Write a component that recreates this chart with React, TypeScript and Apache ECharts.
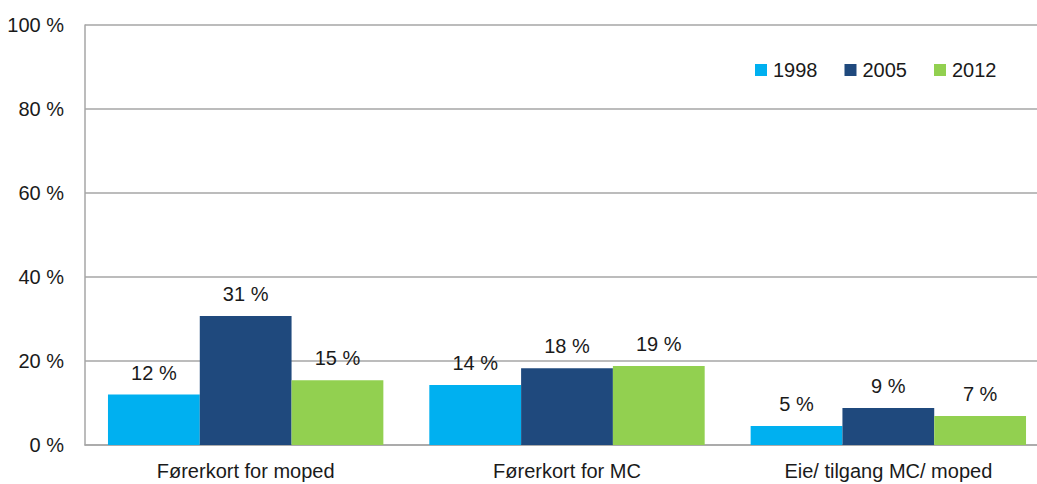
import React, { useEffect, useRef } from "react";
import * as echarts from "echarts";

const categories = ["Førerkort for moped", "Førerkort for MC", "Eie/ tilgang MC/ moped"];
const years = ["1998", "2005", "2012"];
const values1998 = [12.0, 14.3, 4.5];
const values2005 = [30.7, 18.3, 8.8];
const values2012 = [15.4, 18.8, 6.9];
const colors = ["#00b0f0", "#1f497d", "#92d050"];

export default function App() {
  const ref = useRef<HTMLDivElement>(null);
  useEffect(() => {
    if (!ref.current) return;
    const chart = echarts.init(ref.current, null, { renderer: "svg" });
    const seriesData = [values1998, values2005, values2012];
    chart.setOption({
      animation: false,
      textStyle: { fontFamily: "Liberation Sans, Arial, sans-serif" },
      grid: { left: 85, top: 25, width: 964, height: 420, containLabel: false },
      legend: {
        data: years,
        left: 750,
        top: 55,
        itemWidth: 12,
        itemHeight: 12,
        itemGap: 27,
        icon: "rect",
        textStyle: { fontSize: 20, color: "#1a1a1a", padding: [0, 0, 0, 1] },
      },
      xAxis: {
        type: "category",
        data: categories,
        axisLine: { show: true, lineStyle: { color: "#a6a6a6", width: 1.5 } },
        axisTick: { show: false },
        axisLabel: { fontSize: 20, color: "#1a1a1a", margin: 16 },
      },
      yAxis: {
        type: "value",
        min: 0,
        max: 100,
        interval: 20,
        axisLine: { show: true, lineStyle: { color: "#a6a6a6", width: 1.5 } },
        axisTick: { show: false },
        splitLine: { show: true, lineStyle: { color: "#a6a6a6", width: 1.5 } },
        axisLabel: {
          fontSize: 20,
          color: "#1a1a1a",
          margin: 21,
          formatter: (v: number) => `${v} %`,
        },
      },
      series: years.map((y, i) => ({
        name: y,
        type: "bar",
        data: seriesData[i],
        barGap: "0%",
        barCategoryGap: "14.3%",
        itemStyle: { color: colors[i] },
        label: {
          show: true,
          position: "top",
          distance: 12,
          fontSize: 20,
          color: "#1a1a1a",
          formatter: (p: any) => `${Math.round(p.value)} %`,
        },
      })),
    });
    return () => chart.dispose();
  }, []);
  return (
    <div
      ref={ref}
      style={{ position: "fixed", left: 0, top: 0, width: 1070, height: 484, background: "#fff" }}
    />
  );
}
